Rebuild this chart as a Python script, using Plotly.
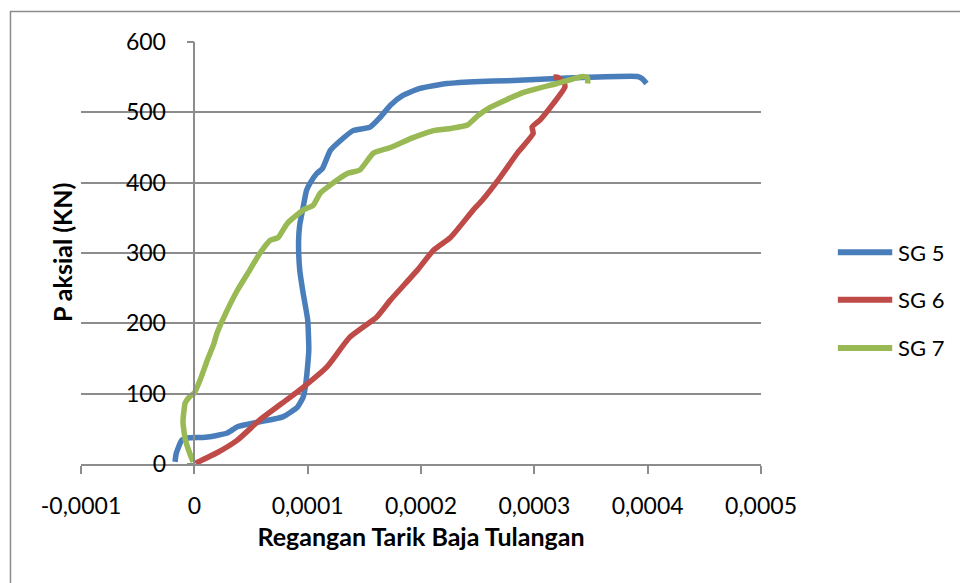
import plotly.graph_objects as go

# Strain values in units of 1e-4, axial load in kN
sg5_strain = [-0.17, -0.16, -0.11, -0.06, 0.10, 0.29, 0.38, 0.58, 0.78, 0.91, 0.96, 0.98, 1.00, 1.01,
              1.00, 0.96, 0.93, 0.92, 0.93, 0.96, 0.99, 1.02, 1.08, 1.13, 1.20, 1.29, 1.40, 1.55,
              1.64, 1.73, 1.84, 1.99, 2.23, 2.52, 2.76, 3.34, 3.91, 3.95, 3.99]
sg5_load = [3, 15, 34, 37, 38, 44, 53, 60, 67, 81, 95, 110, 140, 162,
            205, 243, 276, 318, 340, 365, 389, 399, 413, 420, 446, 460, 474, 479,
            493, 510, 524, 534, 541, 544, 545, 549, 551, 548, 541]

sg6_strain = [0.01, 0.20, 0.38, 0.58, 0.78, 0.96, 1.17, 1.37, 1.61, 1.73, 1.97, 2.11, 2.26,
              2.46, 2.54, 2.70, 2.85, 2.99, 2.98, 3.05, 3.17, 3.27, 3.26, 3.20, 3.17]
sg6_load = [1, 16, 34, 63, 87, 109, 138, 180, 209, 233, 276, 304, 322,
            361, 375, 408, 442, 470, 479, 489, 513, 536, 543, 550, 550]

sg7_strain = [-0.01, -0.04, -0.08, -0.10, -0.08, -0.04, 0.00, 0.05, 0.12, 0.17, 0.20, 0.25,
              0.38, 0.49, 0.58, 0.67, 0.74, 0.82, 0.96, 1.05, 1.11, 1.17, 1.35, 1.46, 1.58,
              1.73, 1.93, 2.11, 2.26, 2.41, 2.50, 2.61, 2.90, 3.20, 3.43, 3.47, 3.47]
sg7_load = [3, 15, 35, 60, 87, 96, 101, 119, 150, 170, 186, 205,
            247, 276, 300, 318, 322, 342, 361, 368, 385, 393, 413, 418, 442,
            450, 464, 474, 477, 482, 495, 507, 528, 541, 551, 549, 541]

series_names = ["SG 5", "SG 6", "SG 7"]
series_colors = ["#4A7EBB", "#BE4B48", "#98B954"]

x_ticks = [-0.0001, 0, 0.0001, 0.0002, 0.0003, 0.0004, 0.0005]
x_tick_text = ["-0,0001", "0", "0,0001", "0,0002", "0,0003", "0,0004", "0,0005"]
y_ticks = [0, 100, 200, 300, 400, 500, 600]

FONT = "Lato, 'Open Sans', sans-serif"
GRID = "#8C8C8C"

fig = go.Figure()
for name, color, xs, ys in zip(series_names, series_colors,
                               [sg5_strain, sg6_strain, sg7_strain],
                               [sg5_load, sg6_load, sg7_load]):
    fig.add_trace(go.Scatter(
        x=[v * 1e-4 for v in xs], y=ys, mode="lines", name=name,
        line=dict(color=color, width=5.5, shape="spline", smoothing=0.5),
        showlegend=False,
    ))

# Legend drawn as line samples with labels to the right of the plot
legend_y = [0.502, 0.389, 0.275]
for name, color, ly in zip(series_names, series_colors, legend_y):
    fig.add_shape(type="line", xref="paper", yref="paper",
                  x0=1.113, x1=1.193, y0=ly, y1=ly,
                  line=dict(color=color, width=6))
    fig.add_annotation(x=1.199, y=ly, xref="paper", yref="paper", text=name,
                       showarrow=False, xanchor="left", yanchor="middle",
                       font=dict(family=FONT, size=22, color="#000000"))

# Chart area border
fig.add_shape(type="rect", xref="paper", yref="paper",
              x0=-0.1037, x1=1.5, y0=-0.5, y1=1.0723,
              line=dict(color="#8C8C8C", width=1.5), layer="below")

fig.update_layout(
    width=960, height=583,
    margin=dict(l=81, r=199, t=42, b=119),
    paper_bgcolor="white", plot_bgcolor="white",
    font=dict(family=FONT, size=23, color="#000000"),
    xaxis=dict(
        range=[-0.0001, 0.0005], tickvals=x_ticks, ticktext=x_tick_text,
        showgrid=False, zeroline=False, showline=True, linecolor=GRID, linewidth=1.5,
        ticks="outside", ticklen=8, tickcolor=GRID, tickwidth=1.5,
        ticklabelstandoff=13,
        title=dict(text="<b>Regangan Tarik Baja Tulangan</b>", font=dict(size=25), standoff=10),
    ),
    yaxis=dict(
        range=[0, 600], tickvals=y_ticks, anchor="free", position=1 / 6,
        showgrid=True, gridcolor=GRID, gridwidth=1.5, zeroline=False,
        showline=True, linecolor=GRID, linewidth=1.5,
        ticks="outside", ticklen=7, tickcolor=GRID, tickwidth=1.5,
        ticklabelstandoff=16,
    ),
)

# Y axis title placed at the left edge of the chart area
fig.add_annotation(x=(62 - 81) / 680, y=0.5, xref="paper", yref="paper",
                   text="<b>P aksial (KN)</b>", textangle=-90, showarrow=False,
                   font=dict(family=FONT, size=25, color="#000000"),
                   xanchor="center", yanchor="middle")

fig.write_html("out.html")
